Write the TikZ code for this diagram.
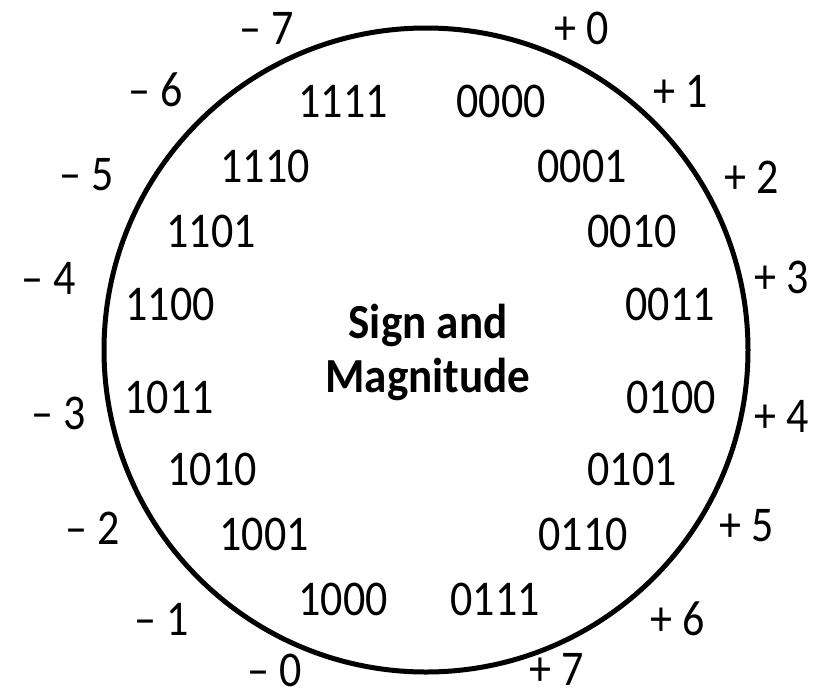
\documentclass[tikz,border=0pt]{standalone}
\usepackage{fontspec}
\setmainfont{Carlito}[FakeStretch=0.88, BoldFeatures={FakeStretch=0.92}]
\usetikzlibrary{positioning}
\tikzset{
    bits/.style={font=\fontsize{25}{27}\selectfont, inner sep=0pt},
    value/.style={bits},
    title/.style={font=\fontsize{24.5}{27}\selectfont\bfseries, align=center, inner sep=0pt},
    ring/.style={circle, draw, line width=2.5pt, minimum size=322pt}
}

\begin{document}
\begin{tikzpicture}[x=0.5pt, y=-0.5pt]
    \useasboundingbox (0,0) rectangle (815,698);
    \node[ring] (ring) at (426,350) {};
    \node[title] (name) at (428,352) {Sign and\\Magnitude};

    % codes inside the ring
    \node[bits] (b1111) at (343,101) {1111};
    \node[bits] (b0000) at (501,101) {0000};
    \node[bits] (b1110) at (265,166) {1110};
    \node[bits] (b0001) at (582,166) {0001};
    \node[bits] (b1101) at (211,231) {1101};
    \node[bits] (b0010) at (632,231) {0010};
    \node[bits] (b1100) at (170,304) {1100};
    \node[bits] (b0011) at (670,304) {0011};
    \node[bits] (b1011) at (169,397) {1011};
    \node[bits] (b0100) at (671,397) {0100};
    \node[bits] (b1010) at (212,469) {1010};
    \node[bits] (b0101) at (632,469) {0101};
    \node[bits] (b1001) at (264,534) {1001};
    \node[bits] (b0110) at (583,534) {0110};
    \node[bits] (b1000) at (343,599) {1000};
    \node[bits] (b0111) at (495,599) {0111};

    % values outside the ring
    \node[value] (m7) at (267,28) {– 7};
    \node[value] (p0) at (582,28) {+ 0};
    \node[value] (m6) at (156,90) {– 6};
    \node[value] (p1) at (681,91) {+ 1};
    \node[value] (m5) at (87,175) {– 5};
    \node[value] (p2) at (752,177) {+ 2};
    \node[value] (m4) at (49,278) {– 4};
    \node[value] (p3) at (782,277) {+ 3};
    \node[value] (m3) at (59,413) {– 3};
    \node[value] (p4) at (782,416) {+ 4};
    \node[value] (m2) at (93,528) {– 2};
    \node[value] (p5) at (747,526) {+ 5};
    \node[value] (m1) at (162,619) {– 1};
    \node[value] (p6) at (678,619) {+ 6};
    \node[value] (m0) at (275,670) {– 0};
    \node[value] (p7) at (557,669) {+ 7};
\end{tikzpicture}
\end{document}
